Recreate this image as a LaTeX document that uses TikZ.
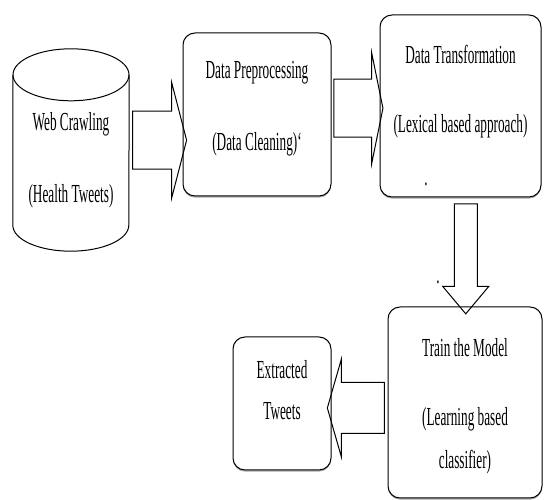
\documentclass[tikz,border=0pt]{standalone}
\usepackage{fontspec}
\setmainfont{Liberation Serif}[FakeStretch=0.51]
\usetikzlibrary{calc,shapes.arrows,shadows}

\tikzset{
  box/.style={draw, fill=white, line width=1pt, rounded corners=12pt, inner sep=0pt,
    drop shadow={shadow xshift=0pt, shadow yshift=-1.6pt, fill=black!35, opacity=1}},
  fatarrow/.style={draw, line width=1pt, single arrow, single arrow head indent=0pt,
    inner xsep=0pt, outer sep=0pt},
  lbl/.style={font=\fontsize{26}{28}\selectfont, inner sep=0pt},
}

\begin{document}
\begin{tikzpicture}[x=1pt,y=1pt]
    \useasboundingbox (0,0) rectangle (544,500);

    % the five stages
    \node[minimum width=116pt, minimum height=202pt, inner sep=0pt] (web) at (71,350) {};
    \draw[line width=1pt] ([yshift=-26pt]web.north) ellipse [x radius=58pt, y radius=26pt];
    \draw[line width=1pt] ([yshift=-26pt]web.north west) -- ([yshift=26pt]web.south west)
      arc[start angle=180, end angle=360, x radius=58pt, y radius=26pt]
      -- ([yshift=-26pt]web.north east);
    \node[box, minimum width=148pt, minimum height=163pt] (prep) at (257,385.5) {};
    \node[box, minimum width=161pt, minimum height=182pt] (trans) at (460.5,394) {};
    \node[box, minimum width=154pt, minimum height=191pt] (train) at (465,97.5) {};
    \node[box, minimum width=98pt, minimum height=133pt] (extr) at (282,96.5) {};

    % their labels
    \node[lbl] (web1) at ([yshift=26pt]web.center) {Web Crawling};
    \node[lbl] (web2) at ([yshift=-46pt]web.center) {(Health Tweets)};
    \node[lbl] (prep1) at ([yshift=-40pt]prep.north) {Data Preprocessing};
    \node[lbl] (prep2) at ([yshift=-112pt]prep.north) {(Data Cleaning)`};
    \node[lbl] (trans1) at ([yshift=-40pt]trans.north) {Data Transformation};
    \node[lbl] (trans2) at ([yshift=-112pt]trans.north) {(Lexical based approach)};
    \node[lbl] (trans3) at (426,316) {.};
    \node[lbl] (train1) at ([yshift=-41pt]train.north) {Train the Model};
    \node[lbl] (train2) at ([yshift=-113pt]train.north) {(Learning based};
    \node[lbl] (train3) at ([yshift=-156pt]train.north) {classifier)};
    \node[lbl] (train4) at (438,218) {.};
    \node[lbl] (extr1) at ([yshift=-33pt]extr.north) {Extracted};
    \node[lbl] (extr2) at ([yshift=-75pt]extr.north) {Tweets};

    % block arrows between the stages
    \node[fatarrow, minimum height=54pt, inner ysep=28.5pt,
          single arrow head extend=29pt, single arrow tip angle=151]
          (a1) at ([yshift=-8pt]$(web.east)!.5!(prep.west)$) {};
    \node[fatarrow, minimum height=49pt, inner ysep=28.5pt,
          single arrow head extend=26.5pt, single arrow tip angle=157]
          (a2) at ([yshift=2pt]$(prep.east)!.5!(trans.west)$) {};
    \node[fatarrow, rotate=-90, minimum height=110pt, inner ysep=11pt,
          single arrow head extend=11.5pt, single arrow tip angle=80]
          (a3) at ([xshift=3pt]$(trans.south)!.5!(train.north)$) {};
    \node[fatarrow, rotate=180, minimum height=57pt, inner ysep=25pt,
          single arrow head extend=23.5pt, single arrow tip angle=148]
          (a4) at ([yshift=-5pt]$(train.west)!.5!(extr.east)$) {};
\end{tikzpicture}
\end{document}
